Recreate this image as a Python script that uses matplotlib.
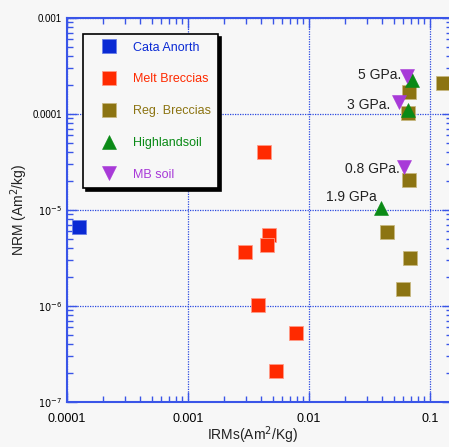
import numpy as np
import matplotlib
matplotlib.use("Agg")
import matplotlib.pyplot as plt

plt.rcParams['font.family'] = ['Liberation Sans', 'DejaVu Sans']

# data (IRMs, NRM in Am^2/kg)
cata_x = [1.25e-4]
cata_y = [6.6e-6]

melt_x = [4.28e-3, 4.64e-3, 4.52e-3, 2.98e-3, 3.79e-3, 7.85e-3, 5.37e-3]
melt_y = [4.05e-5, 5.45e-6, 4.28e-6, 3.69e-6, 1.02e-6, 5.24e-7, 2.12e-7]

reg_x = [0.0443, 0.0679, 0.0601, 0.067, 0.0653, 0.0665, 0.128]
reg_y = [5.96e-6, 3.19e-6, 1.49e-6, 2.05e-5, 1.02e-4, 1.71e-4, 2.1e-4]

high_x = [0.071, 0.0653, 0.0394]
high_y = [2.26e-4, 1.10e-4, 1.05e-5]

mb_x = [0.064, 0.0555, 0.0614]
mb_y = [2.49e-4, 1.34e-4, 2.83e-5]

notes = ["5 GPa.", "3 GPa.", "0.8 GPa.", "1.9 GPa"]
note_x = [0.058, 0.0465, 0.0561, 0.0362]
note_y = [2.55e-4, 1.25e-4, 2.7e-5, 1.35e-5]

bg = '#f7f7f7'
axcol = '#3a55e8'

fig = plt.figure(figsize=(4.49, 4.47), dpi=100, facecolor=bg)
ax = fig.add_axes([67 / 449, 45 / 447, 385 / 449, 384 / 447])
ax.set_facecolor(bg)
ax.set_xscale('log')
ax.set_yscale('log')

ms = 10
ax.plot(cata_x, cata_y, 's', color='#0a2ad4', ms=ms, mec='#6a80e8', mew=0.6, label='Cata Anorth')
ax.plot(melt_x, melt_y, 's', color='#ff2a00', ms=ms, mec='#ff9a88', mew=0.6, label='Melt Breccias')
ax.plot(reg_x, reg_y, 's', color='#8c7412', ms=ms, mec='#c8b880', mew=0.6, label='Reg. Breccias')
ax.plot(high_x, high_y, '^', color='#0a8a16', ms=9.5, mec='#0a8a16', mew=0.4, label='Highlandsoil')
ax.plot(mb_x, mb_y, 'v', color='#a83ad8', ms=9.5, mec='#a83ad8', mew=0.4, label='MB soil')

for t, x, y in zip(notes, note_x, note_y):
    ax.text(x, y, t, ha='right', va='center', fontsize=10, color='#222222')

ax.set_xlim(1e-4, 0.152)
ax.set_ylim(1e-7, 1e-3)

ax.set_xticks([1e-4, 1e-3, 1e-2, 1e-1])
ax.set_xticklabels(['0.0001', '0.001', '0.01', '0.1'], fontsize=9)
ax.set_yticks([1e-7, 1e-6, 1e-5, 1e-4, 1e-3])
ax.set_yticklabels([r'$10^{-7}$', r'$10^{-6}$', r'$10^{-5}$', '0.0001', '0.001'], fontsize=7)

ax.tick_params(which='both', direction='in', top=True, right=True, color=axcol)
ax.tick_params(which='major', length=7, width=1)
ax.tick_params(which='minor', length=4, width=1)
ax.tick_params(axis='x', pad=8)
for s in ax.spines.values():
    s.set_color(axcol)
    s.set_linewidth(1.5)

ax.grid(True, which='major', color='#2a48e0', linestyle=(0, (1, 1)), linewidth=0.9)

ax.set_xlabel(r'IRMs(Am$^2$/Kg)', fontsize=10, color='#222222')
ax.set_ylabel(r'NRM (Am$^2$/kg)', fontsize=10, color='#222222', labelpad=2)
ax.xaxis.set_label_coords(0.483, -0.058)

leg = ax.legend(loc='upper left', bbox_to_anchor=(0.042, 0.958), fontsize=9,
                labelcolor='markerfacecolor', frameon=True, fancybox=False,
                shadow={'color': 'black', 'alpha': 1.0}, borderpad=0.6,
                labelspacing=1.58, handletextpad=0.35, borderaxespad=0,
                numpoints=1, handlelength=3.0)
leg.get_frame().set_edgecolor('black')
leg.get_frame().set_linewidth(1.2)
leg.get_frame().set_facecolor(bg)
leg.get_frame().set_alpha(1)

fig.savefig('out.png', dpi=100, facecolor=bg)
